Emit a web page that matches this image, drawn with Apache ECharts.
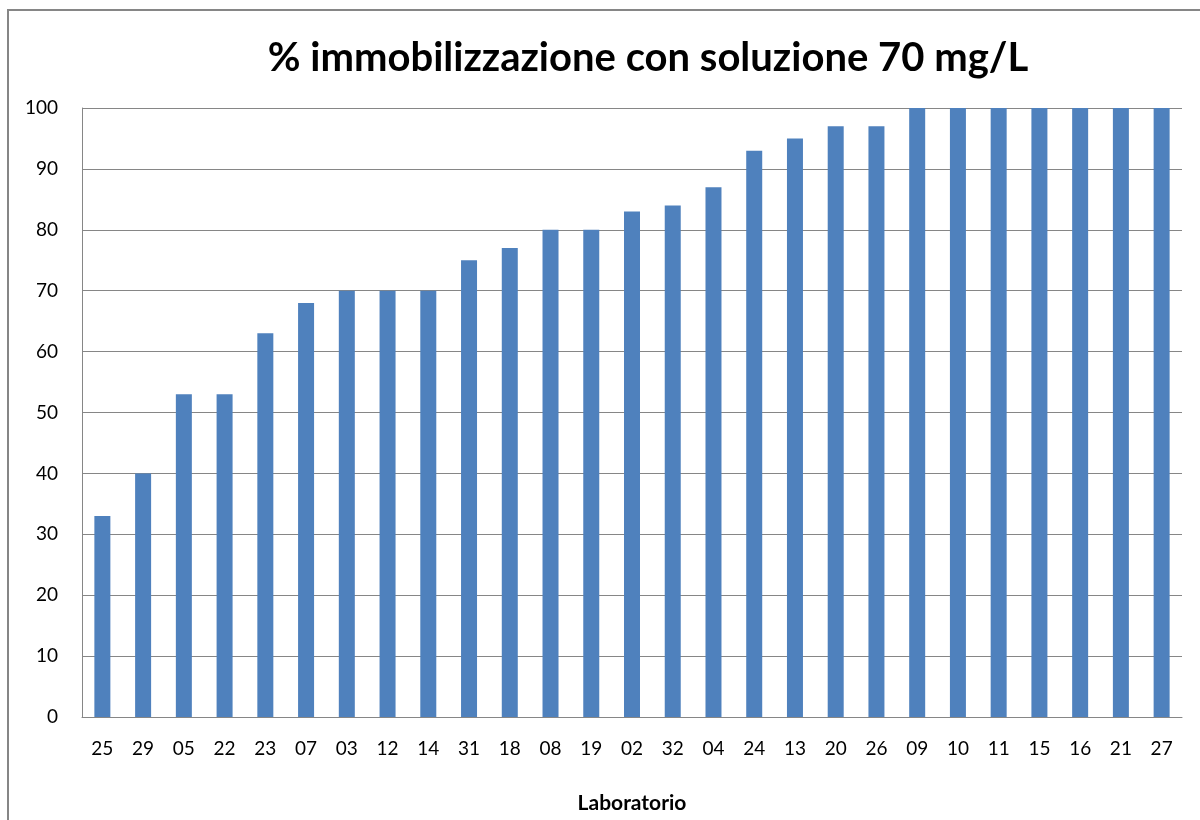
<!DOCTYPE html>
<html>
<head>
<meta charset="utf-8">
<script src="https://cdn.jsdelivr.net/npm/echarts@6/dist/echarts.min.js"></script>
<style>
  html, body { margin: 0; padding: 0; background: #fff; }
  #chart { width: 1200px; height: 820px; }
</style>
</head>
<body>
<div id="chart"></div>
<script>
// Laboratory codes, in the order they are plotted
const laboratori = ['25','29','05','22','23','07','03','12','14','31','18','08','19','02','32','04','24','13','20','26','09','10','11','15','16','21','27'];
// Percent immobilization at 70 mg/L for each laboratory
const immobilizzazione = [33,40,53,53,63,68,70,70,70,75,77,80,80,83,84,87,93,95,97,97,100,100,100,100,100,100,100];
// Value axis ticks
const yMin = 0, yMax = 100, yStep = 10;

const FONT = 'Lato, "Open Sans", sans-serif';
const GRID_COLOR = '#868686';

const chart = echarts.init(document.getElementById('chart'), null, { renderer: 'canvas' });
chart.setOption({
  animation: false,
  backgroundColor: '#ffffff',
  graphic: [{
    type: 'rect',
    shape: { x: 8, y: 10, width: 1400, height: 1000 },
    style: { fill: 'none', stroke: GRID_COLOR, lineWidth: 2 },
    silent: true
  }],
  title: {
    text: '% immobilizzazione con soluzione 70 mg/L',
    left: 643,
    top: 33,
    textAlign: 'center',
    textStyle: { fontFamily: FONT, fontSize: 40, fontWeight: 'bold', color: '#000' }
  },
  grid: { left: 82, top: 108, right: 18, bottom: 103, containLabel: false },
  xAxis: {
    type: 'category',
    data: laboratori,
    name: 'Laboratorio',
    nameLocation: 'middle',
    nameGap: 76,
    nameTextStyle: { fontFamily: FONT, fontSize: 21, fontWeight: 'bold', color: '#000' },
    axisLine: { show: true, lineStyle: { color: GRID_COLOR, width: 1 } },
    axisTick: { show: false },
    axisLabel: { interval: 0, margin: 22, fontFamily: FONT, fontSize: 19, color: '#000' },
    splitLine: { show: false }
  },
  yAxis: {
    type: 'value',
    min: yMin,
    max: yMax,
    interval: yStep,
    axisLine: { show: true, lineStyle: { color: GRID_COLOR, width: 1 } },
    axisTick: { show: false },
    axisLabel: { margin: 24, fontFamily: FONT, fontSize: 19, color: '#000' },
    splitLine: { show: true, lineStyle: { color: GRID_COLOR, width: 1 } }
  },
  series: [{
    type: 'bar',
    data: immobilizzazione,
    barWidth: 16,
    itemStyle: { color: '#4F81BD' }
  }]
});
</script>
</body>
</html>
